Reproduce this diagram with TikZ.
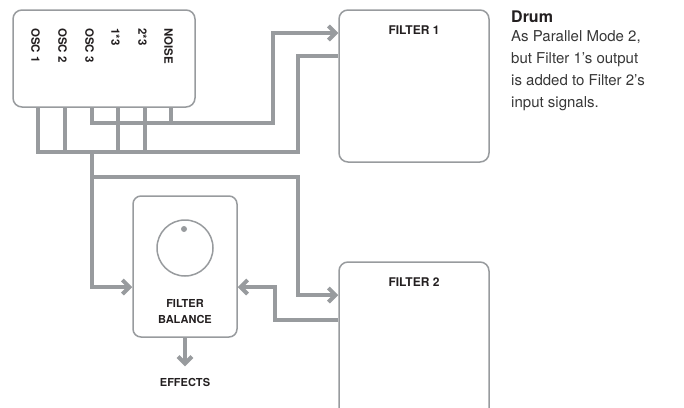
\documentclass[tikz,border=0pt]{standalone}
\usepackage{fontspec}
\setmainfont{TeX Gyre Heros}
\usetikzlibrary{arrows.meta,positioning}
\definecolor{wiregray}{RGB}{152,155,158}
\definecolor{labelblack}{RGB}{35,31,32}
\definecolor{bodygray}{RGB}{55,55,55}

\begin{document}
\begin{tikzpicture}[x=1pt, y=-1pt,
  unit/.style={draw=wiregray, line width=1.5pt, rounded corners=9pt, minimum width=150pt},
  wire/.style={draw=wiregray, line width=4pt},
  feed/.style={wire, -{Straight Barb[length=7pt,width=14pt]}},
  caps/.style={text=labelblack, font=\bfseries\fontsize{11}{16}\selectfont},
  chan/.style={text=labelblack, font=\bfseries\fontsize{11.5}{12}\selectfont, rotate=-90, anchor=west, inner sep=0pt}
]
\useasboundingbox (0,0) rectangle (684,407);
\clip (0,0) rectangle (684,407);

% boxes
\node[unit, minimum width=182pt, minimum height=97pt] (src) at (104,58.5) {};
\node[unit, minimum height=152pt] (f1) at (414,86) {};
\node[unit, minimum height=170pt] (f2) at (414,347) {};
\node[unit, minimum width=104pt, minimum height=141pt, rounded corners=8pt] (fb) at (185,266.5) {};

% source channels
\foreach \i/\x/\lbl in {1/38/OSC 1,2/65/OSC 2,3/92/OSC 3,4/118/1*3,5/145/2*3,6/171/NOISE}{
  \node[chan] (ch\i) at (\x-2.5,28) {\lbl};
  \coordinate (pin\i) at (\x,0 |- src.south);
}

% knob
\node[circle, draw=wiregray, line width=1.5pt, minimum size=56pt] (knob) at (185,248) {};
\node[circle, fill=wiregray, inner sep=0pt, minimum size=6pt] (knobdot) at (184,229) {};

% labels
\node[caps, font=\bfseries\fontsize{12}{16}\selectfont] (f1lbl) at ([yshift=-20.5pt]f1.north) {FILTER 1};
\node[caps, font=\bfseries\fontsize{12}{16}\selectfont] (f2lbl) at ([yshift=-21pt]f2.north) {FILTER 2};
\node[caps, align=center] (fblbl) at (185,312) {FILTER\\BALANCE};
\node[caps] (fx) at (185,382) {EFFECTS};
\node[anchor=west, inner sep=0pt, text=labelblack, font=\bfseries\fontsize{16}{18}\selectfont] (drum) at (511,17) {Drum};
\node[anchor=north west, inner sep=0pt, align=left, text=bodygray, font=\fontsize{15}{22}\selectfont] (desc) at (511,30) {As Parallel Mode 2,\\but Filter 1's output\\is added to Filter 2's\\input signals.};

% routing
\coordinate (busA) at (273,123);
\coordinate (busB) at (298,152);
\coordinate (busC) at (298,177);
\coordinate (tap) at (pin3 |- busB);
\coordinate (ret) at (275,287);
\coordinate (f1in) at (f1.west |- 0,33);
\coordinate (f1out) at (f1.west |- 0,56);
\coordinate (f2in) at (f2.west |- 0,295);
\coordinate (f2out) at (f2.west |- 0,320);
\coordinate (fbin) at (fb.west |- 0,287);
\coordinate (fbback) at (fb.east |- 0,287);

\draw[feed] (pin3) |- (busA) |- (f1in);
\draw[wire] (pin6) -- (pin6 |- busA);
\draw[wire] (pin1) |- (busB) |- (f1out);
\foreach \i in {2,4,5} \draw[wire] (pin\i) -- (pin\i |- busB);
\draw[feed] (tap) |- (fbin);
\draw[feed] (tap |- busC) -- (busC) |- (f2in);
\draw[feed] (f2out) -| (ret) -- (fbback);
\draw[feed] (fb.south) -- ([yshift=8pt]fx.north);
\end{tikzpicture}
\end{document}
